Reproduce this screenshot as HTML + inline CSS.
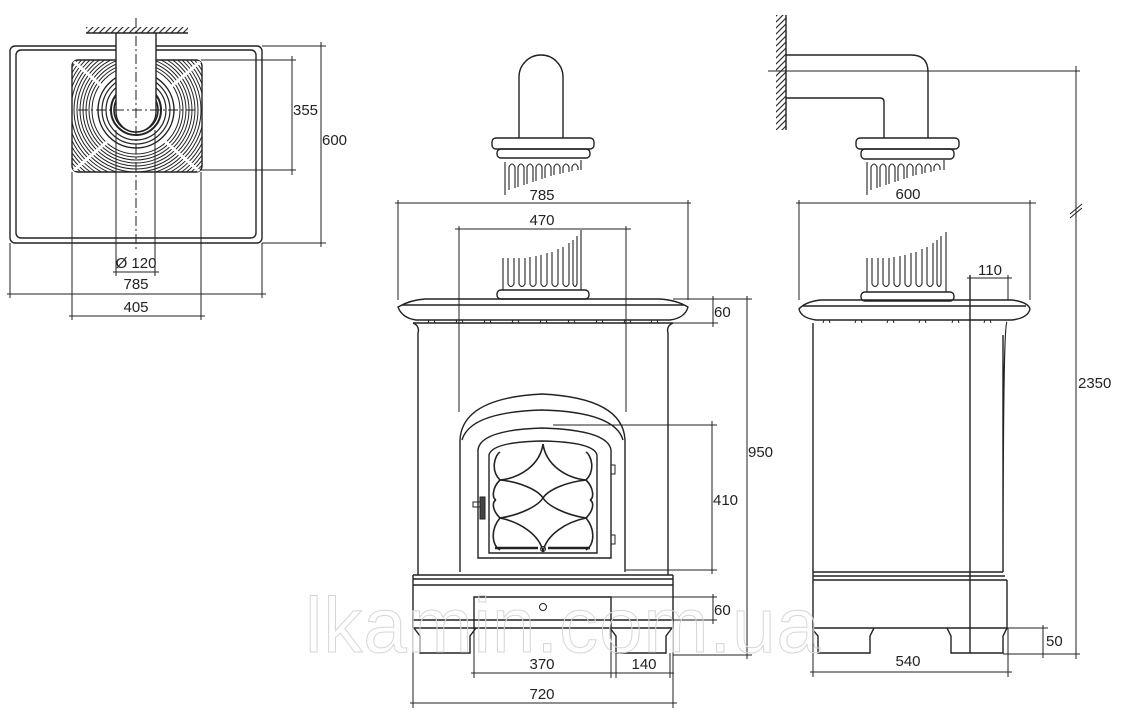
<!DOCTYPE html>
<html><head><meta charset="utf-8"><style>
html,body{margin:0;padding:0;background:#fff;}
svg{display:block;}
text{font-family:"Liberation Sans",sans-serif;font-size:15px;fill:#222;}
</style></head><body>
<svg width="1140" height="715" viewBox="0 0 1140 715" xmlns="http://www.w3.org/2000/svg">
<defs>
<clipPath id="sq"><rect x="72" y="60" width="130" height="112" rx="6"/></clipPath>
<pattern id="hatch" width="6" height="6" patternUnits="userSpaceOnUse"><path d="M0,6 L6,0 M-1,1 L1,-1 M5,7 L7,5" stroke="#333" stroke-width="1.2"/></pattern>
</defs>
<g fill="none" stroke="#222" stroke-width="1.4">
<!-- ===== PLAN VIEW ===== -->
<rect x="10" y="46" width="252" height="197" rx="5"/>
<rect x="16" y="50" width="240" height="188" rx="5"/>
<rect x="72" y="60" width="130" height="112" rx="6"/>
<g clip-path="url(#sq)" stroke-width="1">
<circle cx="136" cy="110" r="44"/><circle cx="136" cy="110" r="47"/><circle cx="136" cy="110" r="50"/><circle cx="136" cy="110" r="53"/><circle cx="136" cy="110" r="56"/><circle cx="136" cy="110" r="59"/><circle cx="136" cy="110" r="62"/><circle cx="136" cy="110" r="65"/><circle cx="136" cy="110" r="68"/><circle cx="136" cy="110" r="71"/><circle cx="136" cy="110" r="74"/><circle cx="136" cy="110" r="77"/><circle cx="136" cy="110" r="80"/><circle cx="136" cy="110" r="83"/><circle cx="136" cy="110" r="86"/><circle cx="136" cy="110" r="89"/><circle cx="136" cy="110" r="92"/>
<path d="M72,60 L200,172 M202,60 L72,172" stroke="#fff" stroke-width="3"/>
</g>
<circle cx="136" cy="110" r="38" fill="#fff"/>
<circle cx="136" cy="110" r="34" stroke-width="1.2"/>
<circle cx="136" cy="110" r="30" stroke-width="1.2"/>
<circle cx="136" cy="110" r="25" stroke-width="2"/>
<circle cx="136" cy="110" r="22" stroke-width="1.5"/>
<path d="M116,33 L116,112 A20,20 0 0 0 156,112 L156,33" fill="#fff"/>
<rect x="86" y="27" width="102" height="6" fill="url(#hatch)" stroke="none"/>
<line x1="86" y1="33" x2="188" y2="33"/>
<path d="M136,18 V250 M78,110 H195" stroke-dasharray="10,3,2,3" stroke-width="1"/>
<!-- plan dims -->
<path d="M201,60 H296 M201,170 H296 M292,56 V175 M262,46 H326 M262,243 H326 M321,42 V247" stroke-width="1"/>
<path d="M116,130 V276 M155,130 V276 M113,272 H159 M10,243 V298 M262,243 V298 M7,294 H266 M72,172 V320 M201,172 V320 M69,316 H205" stroke-width="1"/>

<!-- ===== FRONT VIEW ===== -->
<path d="M519,138 V77 A22,22 0 0 1 563,77 V138"/>
<rect x="492" y="138" width="102" height="11" rx="4"/>
<rect x="497" y="149" width="93" height="9" rx="4"/>
<g stroke-width="1.1">
<path d="M505,195 V162"/>
<path d="M509,190 V167 Q512,161 515,167 V188 M518,187 V167 Q521,161 524,167 V185 M527,184 V167 Q530,161 533,167 V182 M536,181 V167 Q539,161 542,167 V179 M545,178 V167 Q548,161 551,167 V176 M554,175 V167 Q557,161 560,167 V174 M563,173 V167 Q566,161 569,167 V172 M572,171 V167 Q575,161 578,167 V170 M581,170 V160"/>
</g>
<!-- upper flutes -->
<g stroke-width="1.1">
<path d="M503,258 V290 M581,230 V290"/>
<path d="M508,258 V284 Q511,289 514,284 V258 M519,258 V284 Q522,289 525,284 V258 M530,257 V284 Q533,289 536,284 V256 M541,255 V284 Q544,289 547,284 V253 M552,252 V284 Q555,289 558,284 V249 M563,247 V284 Q566,289 569,284 V243 M573,240 V284 Q575,289 577,284 V236"/>
</g>
<rect x="497" y="290" width="92" height="9" rx="4"/>
<path d="M398,307 Q410,300 425,299 H660 Q676,300 688,307 Q685,318 670,320 H416 Q402,318 398,307 Z"/>
<path d="M402,305 H684"/>
<g stroke-width="1">
<path d="M428,323 L429,320 H434 L435,323 M456,323 L457,320 H462 L463,323 M484,323 L485,320 H490 L491,323 M512,323 L513,320 H518 L519,323 M540,323 L541,320 H546 L547,323 M568,323 L569,320 H574 L575,323 M596,323 L597,320 H602 L603,323 M624,323 L625,320 H630 L631,323 M651,323 L652,320 H657 L658,323"/>
</g>
<path d="M413,323 Q420,326 418,333 V575 M673,323 Q666,326 668,333 V575"/>
<path d="M413,323 H673"/>
<!-- door surround -->
<path d="M460,572 V440 Q462,398 542,394 Q623,398 625,440 V572"/>
<path d="M462,440 Q470,412 542,410 Q615,412 623,440"/>
<path d="M478,558 V450 Q480,430 542,428 Q608,430 611,450 V558 Z"/>
<path d="M489,553 V455 Q492,442 542,441 Q594,442 597,455 V553 Z"/>
<rect x="611" y="465" width="4" height="9" stroke-width="1"/>
<rect x="611" y="535" width="4" height="9" stroke-width="1"/>
<path d="M495,548 H538 M548,548 H590" stroke-width="2.5"/>
<circle cx="543" cy="549" r="2.5" stroke-width="1"/>
<g stroke-width="1.6">
<path d="M543,444 C540,465 520,478 500,480 M543,444 C546,465 566,478 586,480"/>
<path d="M500,480 C520,482 538,490 543,498 M586,480 C566,482 548,490 543,498"/>
<path d="M543,498 C538,506 520,515 500,518 M543,498 C548,506 566,515 586,518"/>
<path d="M500,518 C520,522 540,535 543,552 M586,518 C566,522 546,535 543,552"/>
<path d="M500,480 C490,470 495,455 500,452 M586,480 C596,470 591,455 586,452"/>
<path d="M500,518 C490,530 492,545 500,550 M586,518 C596,530 594,545 586,550"/>
<path d="M500,480 C492,488 492,498 496,500 M500,518 C492,510 492,502 496,500 M586,480 C594,488 594,498 590,500 M586,518 C594,510 594,502 590,500"/>
</g>
<rect x="473" y="502" width="10" height="5" stroke-width="1"/>
<rect x="480" y="497" width="5" height="22" fill="#444" stroke-width="1"/>
<!-- base -->
<path d="M413,575 H673 M413,579 H673 M413,585 H673"/>
<path d="M413,575 V628 M673,575 V628 M413,620 H673 M413,628 H673"/>
<path d="M474,628 V597 H611 V628"/>
<circle cx="543" cy="607" r="3.5" stroke-width="1"/>
<path d="M414,628 L420,636 V653 H470 V636 L476,628 M610,628 L616,636 V653 H666 V636 L672,628"/>
<!-- front dims -->
<g stroke-width="1">
<path d="M398,200 V300 M688,200 V300 M395,203 H691"/>
<path d="M459,226 V412 M626,226 V412 M455,229 H631"/>
<path d="M673,299 H718 M673,323 H718 M713,296 V327 M673,299 H752 M673,655 H752 M747,296 V659"/>
<path d="M553,425 H717 M626,570 H717 M712,421 V574"/>
<path d="M611,597 H717 M611,620 H717 M713,594 V624"/>
<path d="M474,628 V678 M611,628 V678 M616,653 V678 M670,653 V678 M471,673 H614 M613,673 H674"/>
<path d="M413,628 V708 M673,628 V708 M410,703 H677"/>
</g>

<!-- ===== SIDE VIEW ===== -->
<rect x="776" y="15" width="10" height="115" fill="url(#hatch)" stroke="none"/>
<line x1="786" y1="15" x2="786" y2="130"/>
<path d="M786,55 H911 Q928,55 928,72 V138"/>
<path d="M786,98 H880 Q884,98 884,102 V138"/>
<rect x="856" y="138" width="103" height="11" rx="4"/>
<rect x="861" y="149" width="93" height="10" rx="4"/>
<g stroke-width="1.1">
<path d="M867,195 V162"/>
<path d="M871,190 V167 Q874,161 877,167 V188 M880,187 V167 Q883,161 886,167 V185 M889,184 V167 Q892,161 895,167 V182 M898,181 V167 Q901,161 904,167 V179 M907,178 V167 Q910,161 913,167 V176 M916,175 V167 Q919,161 922,167 V174 M925,173 V167 Q928,161 931,167 V172 M934,171 V167 Q937,161 940,167 V170 M944,170 V160"/>
</g>
<g stroke-width="1.1">
<path d="M867,258 V292 M946,232 V292"/>
<path d="M872,258 V284 Q875,289 878,284 V258 M883,258 V284 Q886,289 889,284 V258 M894,257 V284 Q897,289 900,284 V256 M905,255 V284 Q908,289 911,284 V253 M916,252 V284 Q919,289 922,284 V249 M927,247 V284 Q930,289 933,284 V243 M937,240 V284 Q939,289 941,284 V236"/>
</g>
<rect x="861" y="292" width="93" height="9" rx="4"/>
<path d="M799,309 Q805,302 820,300 H1012 Q1028,302 1030,309 Q1028,318 1012,320 H816 Q801,318 799,309 Z"/>
<path d="M803,306 H1026"/>
<g stroke-width="1">
<path d="M823,323 L824,320 H829 L830,323 M855,323 L856,320 H861 L862,323 M887,323 L888,320 H893 L894,323 M919,323 L920,320 H925 L926,323 M952,323 L953,320 H958 L959,323 M984,323 L985,320 H990 L991,323"/>
</g>
<path d="M813,323 V580 M1003,335 V572 Q1003,325 1007,322"/>
<path d="M813,572 H1003 M813,576 H1005 M813,580 H1007 M1007,580 V628 M813,580 V628 M813,628 H1007"/>
<path d="M813,630 L818,636 V653 H870 V636 L874,628 M947,628 L951,636 V653 H1003 V636 L1007,628"/>
<path d="M970,275 V653"/>
<!-- side dims -->
<g stroke-width="1">
<path d="M799,200 V300 M1030,200 V300 M796,203 H1036"/>
<path d="M1008,275 V300 M967,278 H1012"/>
<path d="M1007,628 H1048 M1003,654 H1080 M1043,625 V658"/>
<path d="M768,71 H1080 M1076,66 V659 M1070,214 L1082,204 M1070,218 L1082,208"/>
<path d="M813,628 V677 M1008,628 V677 M810,672 H1012"/>
</g>
</g>
<!-- watermark -->
<text x="305" y="652" style="font-size:78px;fill:none;stroke:#d6d6d6;stroke-width:1;letter-spacing:1px">lkamin.com.ua</text>
<!-- labels -->
<text x="293" y="115">355</text>
<text x="322" y="145">600</text>
<text x="136" y="268" text-anchor="middle">Ø 120</text>
<text x="136" y="289" text-anchor="middle">785</text>
<text x="136" y="312" text-anchor="middle">405</text>
<text x="542" y="200" text-anchor="middle">785</text>
<text x="542" y="225" text-anchor="middle">470</text>
<text x="714" y="317">60</text>
<text x="748" y="457">950</text>
<text x="713" y="505">410</text>
<text x="714" y="615">60</text>
<text x="542" y="669" text-anchor="middle">370</text>
<text x="644" y="669" text-anchor="middle">140</text>
<text x="542" y="699" text-anchor="middle">720</text>
<text x="908" y="199" text-anchor="middle">600</text>
<text x="990" y="275" text-anchor="middle">110</text>
<text x="1078" y="388">2350</text>
<text x="1046" y="646">50</text>
<text x="908" y="666" text-anchor="middle">540</text>
</svg>
</body></html>
